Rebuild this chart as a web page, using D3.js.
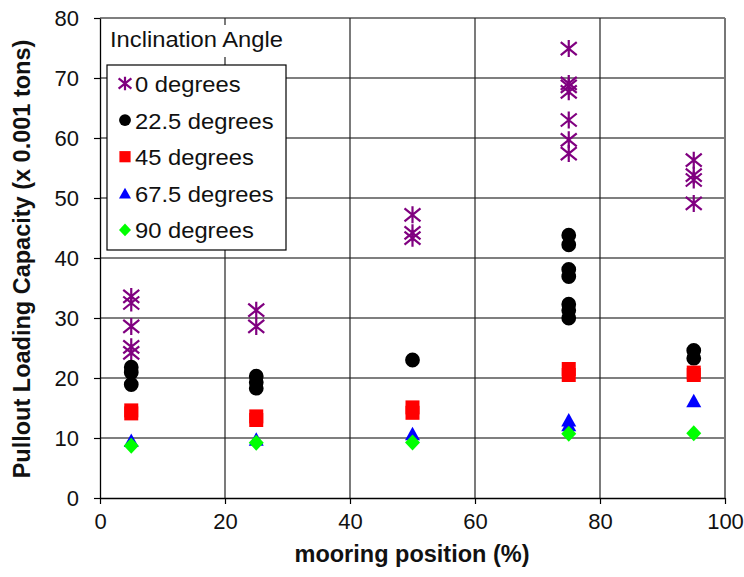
<!DOCTYPE html>
<html>
<head>
<meta charset="utf-8">
<script src="https://cdn.jsdelivr.net/npm/d3@7"></script>
<style>
  body { margin: 0; background: #fff; }
  text { font-family: "Liberation Sans", Arial, sans-serif; fill: #111; }
</style>
</head>
<body>
<svg id="chart" width="744" height="577"></svg>
<script>
const xTicks = [0, 20, 40, 60, 80, 100];
const yTicks = [0, 10, 20, 30, 40, 50, 60, 70, 80];

const seriesNames = ['0 degrees', '22.5 degrees', '45 degrees', '67.5 degrees', '90 degrees'];
const seriesColors = ['#800080', '#000000', '#ff0000', '#0000ff', '#00ff00'];
const seriesShapes = ['star', 'circle', 'square', 'triangle', 'diamond'];

// mooring position (%) and pullout capacity (x 0.001 tons) per inclination angle
const deg0Pos = [5, 5, 5, 5, 5, 25, 25, 50, 50, 50, 75, 75, 75, 75, 75, 75, 75, 95, 95, 95, 95];
const deg0Load = [33.6, 32.5, 28.6, 25.2, 24.2, 31.3, 28.6, 47.2, 44.2, 43.3, 74.9, 69.1, 68.6, 67.7, 63.0, 59.7, 57.4, 56.3, 53.8, 53.0, 49.1];

const deg22Pos = [5, 5, 5, 25, 25, 25, 50, 75, 75, 75, 75, 75, 75, 75, 95, 95];
const deg22Load = [21.8, 20.9, 18.9, 20.3, 19.3, 18.3, 23.0, 43.8, 42.2, 38.1, 36.9, 32.3, 31.3, 30.0, 24.6, 23.3];

const deg45Pos = [5, 5, 25, 25, 50, 50, 75, 75, 95, 95];
const deg45Load = [14.6, 14.1, 13.6, 13.0, 15.1, 14.2, 21.5, 20.5, 20.9, 20.5];

const deg67Pos = [5, 25, 50, 75, 75, 95];
const deg67Load = [9.6, 9.8, 10.7, 13.0, 12.2, 16.2];

const deg90Pos = [5, 25, 50, 75, 95];
const deg90Load = [8.7, 9.2, 9.25, 10.7, 10.8];

const seriesPos = [deg0Pos, deg22Pos, deg45Pos, deg67Pos, deg90Pos];
const seriesLoad = [deg0Load, deg22Load, deg45Load, deg67Load, deg90Load];

const width = 744, height = 577;
const margin = {left: 100, right: 19, top: 18, bottom: 79};

const svg = d3.select('#chart');

const xScale = d3.scaleLinear()
    .domain([0, 100])
    .range([margin.left, width - margin.right]);

const yScale = d3.scaleLinear()
    .domain([0, 80])
    .range([height - margin.bottom, margin.top]);

// grid
svg.append('g')
    .selectAll('line')
    .data(yTicks.filter(d => d > 0))
    .join('line')
    .attr('x1', xScale(0))
    .attr('x2', xScale(100))
    .attr('y1', d => yScale(d))
    .attr('y2', d => yScale(d))
    .style('stroke', '#000')
    .style('stroke-width', 1.2);

svg.append('g')
    .selectAll('line')
    .data(xTicks.filter(d => d > 0 && d < 100))
    .join('line')
    .attr('x1', d => xScale(d))
    .attr('x2', d => xScale(d))
    .attr('y1', yScale(0))
    .attr('y2', yScale(80))
    .style('stroke', '#222')
    .style('stroke-width', 1.2);

svg.append('line')
    .attr('x1', xScale(100))
    .attr('x2', xScale(100))
    .attr('y1', yScale(0))
    .attr('y2', yScale(80))
    .style('stroke', '#777')
    .style('stroke-width', 2);

// axes
const xAxis = svg.append('g')
    .attr('transform', `translate(0, ${yScale(0)})`)
    .call(d3.axisBottom(xScale).tickValues(xTicks).tickSize(6).tickPadding(9).tickSizeOuter(0));

const yAxis = svg.append('g')
    .attr('transform', `translate(${xScale(0)}, 0)`)
    .call(d3.axisLeft(yScale).tickValues(yTicks).tickSize(6).tickPadding(15).tickSizeOuter(0));

[xAxis, yAxis].forEach(a => {
    a.select('.domain').style('stroke', '#000').style('stroke-width', 1.3);
    a.selectAll('.tick line').style('stroke', '#000').style('stroke-width', 1.2);
    a.selectAll('text')
        .style('font-size', '22px')
        .style('fill', '#111')
        .style('font-family', '"Liberation Sans", Arial, sans-serif');
});

// axis titles
svg.append('text')
    .attr('x', 412)
    .attr('y', 562)
    .style('font-size', '23.5px')
    .style('font-weight', 'bold')
    .style('text-anchor', 'middle')
    .text('mooring position (%)');

svg.append('text')
    .attr('transform', `translate(30, ${(yScale(0) + yScale(80)) / 2 + 1}) rotate(-90)`)
    .style('font-size', '23.5px')
    .style('font-weight', 'bold')
    .style('text-anchor', 'middle')
    .text('Pullout Loading Capacity (x 0.001 tons)');

// marker shapes
function markerPath(shape, s) {
    const p = d3.path();
    if (shape === 'circle') {
        p.moveTo(7.4 * s, 0);
        p.arc(0, 0, 7.4 * s, 0, 2 * Math.PI);
    } else if (shape === 'square') {
        p.rect(-7 * s, -7 * s, 14 * s, 14 * s);
    } else if (shape === 'triangle') {
        p.moveTo(0, -7 * s);
        p.lineTo(7.5 * s, 6.5 * s);
        p.lineTo(-7.5 * s, 6.5 * s);
        p.closePath();
    } else if (shape === 'diamond') {
        p.moveTo(0, -8 * s);
        p.lineTo(7.5 * s, 0);
        p.lineTo(0, 8 * s);
        p.lineTo(-7.5 * s, 0);
        p.closePath();
    } else if (shape === 'star') {
        p.moveTo(0, -8.5 * s);
        p.lineTo(0, 8.5 * s);
        p.moveTo(-8 * s, -6.5 * s);
        p.lineTo(8 * s, 6.5 * s);
        p.moveTo(-8 * s, 6.5 * s);
        p.lineTo(8 * s, -6.5 * s);
    }
    return p.toString();
}

function styleMarker(sel, i) {
    if (seriesShapes[i] === 'star') {
        sel.style('fill', 'none')
            .style('stroke', seriesColors[i])
            .style('stroke-width', 2.2);
    } else {
        sel.style('fill', seriesColors[i]).style('stroke', 'none');
    }
}

// points
seriesNames.forEach((name, i) => {
    const pts = seriesPos[i].map((x, k) => ({x: x, y: seriesLoad[i][k]}));
    svg.append('g')
        .selectAll('path')
        .data(pts)
        .join('path')
        .attr('d', markerPath(seriesShapes[i], 1))
        .attr('transform', d => `translate(${xScale(d.x)}, ${yScale(d.y)})`)
        .call(styleMarker, i);
});

// legend
const legendX = 107, legendY = 65, legendW = 179, legendH = 185;

svg.append('rect')
    .attr('x', legendX)
    .attr('y', 25)
    .attr('width', legendW)
    .attr('height', 32)
    .style('fill', '#fff');

svg.append('text')
    .attr('transform', `translate(${legendX + 3}, 47) scale(1.08, 1)`)
    .style('font-size', '22px')
    .text('Inclination Angle');

svg.append('rect')
    .attr('x', legendX)
    .attr('y', legendY)
    .attr('width', legendW)
    .attr('height', legendH)
    .style('fill', '#fff')
    .style('stroke', '#000')
    .style('stroke-width', 1.2);

seriesNames.forEach((name, i) => {
    const cy = legendY + 19.5 + i * 36.6;
    svg.append('path')
        .attr('d', markerPath(seriesShapes[i], 0.8))
        .attr('transform', `translate(${legendX + 18}, ${cy - 1})`)
        .call(styleMarker, i);
    svg.append('text')
        .attr('transform', `translate(${legendX + 28}, ${cy + 7.5}) scale(1.08, 1)`)
        .style('font-size', '22px')
        .text(name);
});
</script>
</body>
</html>
